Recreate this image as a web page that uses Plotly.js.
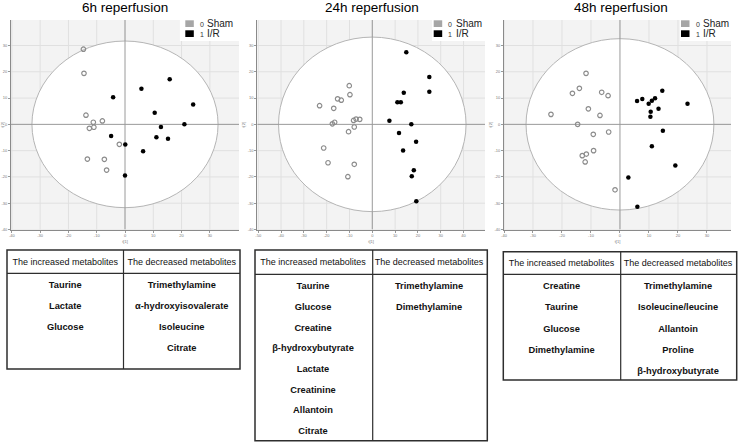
<!DOCTYPE html>
<html>
<head>
<meta charset="utf-8">
<script src="https://cdn.plot.ly/plotly-3.0.1.min.js"></script>
<style>html,body{margin:0;padding:0;background:#fff;}#chart{width:738px;height:443px;}</style>
</head>
<body>
<div id="chart"></div>
<script>
// ---------------- DATA ----------------
const panelTitles = ['6h reperfusion', '24h reperfusion', '48h reperfusion'];
const groupNames = ['Sham', 'I/R'];
const groupCodes = ['0', '1'];

const x6Sham = [-1.47, -1.45, -1.38, -1.12, -0.80, -1.26, -1.10, -0.20, -1.33, -0.73, -0.65];
const y6Sham = [2.86, 1.94, 0.35, 0.08, 0.13, -0.15, -0.11, -0.76, -1.32, -1.33, -1.74];
const x6IR = [1.58, 0.58, -0.42, 2.41, 1.05, 2.10, 1.27, -0.49, 1.11, 1.52, 0.01, 0.64, 0.00];
const y6IR = [1.72, 1.35, 1.03, 0.76, 0.44, 0.00, -0.10, -0.44, -0.49, -0.55, -0.77, -1.02, -1.95];

const x24Sham = [-2.31, -1.69, -1.52, -1.36, -1.01, -0.98, -1.75, -1.65, -0.82, -0.71, -0.55, -0.79, -1.04, -2.13, -1.94, -0.79, -1.07];
const y24Sham = [0.71, 0.61, 0.97, 0.92, 1.47, 1.13, 0.02, 0.08, 0.15, 0.20, 0.19, -0.10, -0.28, -0.90, -1.46, -1.52, -1.99];
const x24IR = [1.49, 2.50, 1.38, 2.50, 1.10, 1.25, 0.75, 1.71, 1.17, 1.92, 1.35, 1.82, 1.73, 1.93];
const y24IR = [2.74, 1.80, 1.20, 1.24, 0.84, 0.84, 0.14, 0.00, -0.33, -0.66, -0.99, -1.75, -1.97, -2.93];

const x48Sham = [-2.38, -1.64, -1.40, -1.17, -1.09, -0.63, -0.41, -0.69, -1.46, -0.92, -0.39, -0.91, -1.30, -1.16, -1.20, -0.17];
const y48Sham = [0.38, 1.18, 1.37, 1.94, 0.59, 1.22, 1.09, 0.34, 0.00, -0.38, -0.29, -1.00, -1.19, -1.13, -1.43, -2.49];
const x48IR = [0.59, 0.77, 0.99, 1.10, 1.21, 1.46, 1.33, 1.06, 1.05, 2.33, 1.48, 1.10, 1.91, 0.29, 0.60];
const y48IR = [0.89, 0.96, 0.78, 0.90, 0.99, 1.28, 0.59, 0.48, 0.29, 0.78, -0.24, -0.83, -1.57, -2.02, -3.13];

const xTicks6 = [-4, -3, -2, -1, 0, 1, 2, 3];
const xTickText6 = ['-40', '-30', '-20', '-10', '0', '10', '20', '30'];
const xTicks24 = [-5, -4, -3, -2, -1, 0, 1, 2, 3, 4];
const xTickText24 = ['-50', '-40', '-30', '-20', '-10', '0', '10', '20', '30', '40'];
const xTicks48 = [-4, -3, -2, -1, 0, 1, 2, 3];
const xTickText48 = ['-40', '-30', '-20', '-10', '0', '10', '20', '30'];
const yTicks = [-4, -3, -2, -1, 0, 1, 2, 3];
const yTickText = ['-40', '-30', '-20', '-10', '0', '10', '20', '30'];
const xAxisTitle = 't[1]';
const yAxisTitle = 't[2]';

const tableHeader = ['The increased metabolites', 'The decreased metabolites'];
const inc6 = ['Taurine', 'Lactate', 'Glucose'];
const dec6 = ['Trimethylamine', 'α-hydroxyisovalerate', 'Isoleucine', 'Citrate'];
const inc24 = ['Taurine', 'Glucose', 'Creatine', 'β-hydroxybutyrate', 'Lactate', 'Creatinine', 'Allantoin', 'Citrate'];
const dec24 = ['Trimethylamine', 'Dimethylamine'];
const inc48 = ['Creatine', 'Taurine', 'Glucose', 'Dimethylamine'];
const dec48 = ['Trimethylamine', 'Isoleucine/leucine', 'Allantoin', 'Proline', 'β-hydroxybutyrate'];

// ---------------- STYLE / LAYOUT ----------------
const W = 738, H = 443;
const PX = v => v / W;
const PY = v => 1 - v / H;
const SHAM_COLOR = '#8c8c8c';
const IR_COLOR = '#000000';
const arial = 'Liberation Sans, Arial, sans-serif';
const NB = s => s.replace(/ /g, '\u00a0');

const panels = [
  {xs: x6Sham, ys: y6Sham, xi: x6IR, yi: y6IR, xt: xTicks6, xtt: xTickText6,
   dom: [11, 239], range: [-4.03, 4.03], rx: 3.29, ry: 3.17, legX: 185.3, whiteX: 1.94, titleX: 125},
  {xs: x24Sham, ys: y24Sham, xi: x24IR, yi: y24IR, xt: xTicks24, xtt: xTickText24,
   dom: [257.3, 485], range: [-5.04, 4.94], rx: 4.11, ry: 3.32, legX: 433.7, whiteX: 2.62, titleX: 372},
  {xs: x48Sham, ys: y48Sham, xi: x48IR, yi: y48IR, xt: xTicks48, xtt: xTickText48,
   dom: [504, 731], range: [-4.0, 3.83], rx: 3.24, ry: 3.26, legX: 681, whiteX: 2.07, titleX: 621}
];
const yRange = [-4.0, 3.97];

const tables = [
  {inc: inc6, dec: dec6, x: [7, 240], top: 250, bottom: 369, head: 23.3, row: 21, div: 123.5},
  {inc: inc24, dec: dec24, x: [255, 487.3], top: 250, bottom: 440.7, head: 24.3, row: 20.7, div: 372.7},
  {inc: inc48, dec: dec48, x: [503.3, 736.7], top: 251.7, bottom: 380, head: 22.6, row: 21.2, div: 620.7}
];

const data = [];
const shapes = [];
const annotations = [];
const layout = {
  width: W, height: H,
  margin: {l: 0, r: 0, t: 0, b: 0},
  paper_bgcolor: '#ffffff',
  plot_bgcolor: '#f3f3f3',
  showlegend: false,
  font: {family: arial, color: '#000'}
};

panels.forEach((p, i) => {
  const n = i === 0 ? '' : String(i + 1);
  const xa = 'x' + n, ya = 'y' + n;
  layout['xaxis' + n] = {
    domain: [PX(p.dom[0]), PX(p.dom[1])], range: p.range, anchor: ya,
    tickvals: p.xt, ticktext: p.xtt, tickfont: {size: 4, color: '#777'},
    ticks: 'outside', ticklen: 2, tickcolor: '#999',
    showgrid: false, zeroline: false, showline: true, linecolor: '#8a8a8a', linewidth: 1,
    automargin: false, fixedrange: true,
    title: {text: xAxisTitle, font: {size: 4, color: '#777'}, standoff: 2}
  };
  layout['yaxis' + n] = {
    domain: [PY(229.5), PY(20)], range: yRange, anchor: xa,
    tickvals: yTicks, ticktext: yTickText, tickfont: {size: 4, color: '#777'},
    ticks: 'outside', ticklen: 2, tickcolor: '#999',
    showgrid: false, zeroline: false, showline: true, linecolor: '#8a8a8a', linewidth: 1,
    automargin: false, fixedrange: true,
    title: {text: yAxisTitle, font: {size: 4, color: '#777'}, standoff: 2}
  };

  data.push({
    type: 'scatter', mode: 'markers', x: p.xs, y: p.ys, xaxis: xa, yaxis: ya,
    marker: {symbol: 'circle-open', size: 4.5, color: SHAM_COLOR, line: {width: 1.2, color: SHAM_COLOR}},
    name: groupNames[0]
  });
  data.push({
    type: 'scatter', mode: 'markers', x: p.xi, y: p.yi, xaxis: xa, yaxis: ya,
    marker: {color: IR_COLOR, size: 4.5, symbol: 'circle'}, name: groupNames[1]
  });

  // grid lines (styling)
  p.xt.forEach(v => shapes.push({type: 'line', xref: xa, yref: ya, layer: 'below', x0: v, x1: v, y0: -10, y1: 10,
    line: {color: '#e0e0e0', width: 1}}));
  yTicks.forEach(v => shapes.push({type: 'line', xref: xa, yref: ya, layer: 'below', x0: -10, x1: 10, y0: v, y1: v,
    line: {color: '#e0e0e0', width: 1}}));
  // legend white backdrop
  shapes.push({type: 'rect', xref: xa, yref: ya, layer: 'below', x0: p.whiteX, x1: p.range[1] + 1, y0: 3.17, y1: 5,
    fillcolor: '#ffffff', line: {width: 0}});
  // Hotelling ellipse
  shapes.push({type: 'circle', xref: xa, yref: ya, layer: 'below', x0: -p.rx, x1: p.rx, y0: -p.ry, y1: p.ry,
    fillcolor: '#ffffff', line: {color: '#b5b5b5', width: 1}});
  // zero lines
  shapes.push({type: 'line', xref: xa, yref: ya, layer: 'below', x0: 0, x1: 0, y0: yRange[0], y1: yRange[1],
    line: {color: '#9a9a9a', width: 1}});
  shapes.push({type: 'line', xref: xa, yref: ya, layer: 'below', x0: p.range[0], x1: p.range[1], y0: 0, y1: 0,
    line: {color: '#9a9a9a', width: 1}});

  // legend squares
  shapes.push({type: 'rect', xref: 'paper', yref: 'paper', x0: PX(p.legX), x1: PX(p.legX + 8.5), y0: PY(27), y1: PY(20.3),
    fillcolor: '#a6a6a6', line: {width: 0}});
  shapes.push({type: 'rect', xref: 'paper', yref: 'paper', x0: PX(p.legX), x1: PX(p.legX + 8.5), y0: PY(37), y1: PY(30.3),
    fillcolor: '#000000', line: {width: 0}});
  [0, 1].forEach(k => {
    const yy = k === 0 ? 23.8 : 33.8;
    annotations.push({xref: 'paper', yref: 'paper', x: PX(p.legX + 12.5), y: PY(yy + 0.6), xanchor: 'left', yanchor: 'middle',
      text: groupCodes[k], showarrow: false, font: {family: arial, size: 7, color: '#333'}});
    annotations.push({xref: 'paper', yref: 'paper', x: PX(p.legX + 20), y: PY(yy), xanchor: 'left', yanchor: 'middle',
      text: groupNames[k], showarrow: false, font: {family: arial, size: 10, color: '#222'}});
  });

  // panel title
  annotations.push({xref: 'paper', yref: 'paper', x: PX(p.titleX), y: PY(7.5), xanchor: 'center', yanchor: 'middle',
    text: panelTitles[i], showarrow: false, font: {family: arial, size: 13.5, color: '#000'}});
});

tables.forEach(t => {
  const nRows = Math.max(t.inc.length, t.dec.length);
  const pad = arr => arr.map(NB).concat(Array(nRows - arr.length).fill(''));
  data.push({
    type: 'table',
    domain: {x: [PX(t.x[0]), PX(t.x[1])], y: [0, PY(t.top)]},
    columnwidth: [1, 1],
    header: {
      values: tableHeader.map(NB), align: 'center', height: t.head,
      fill: {color: '#ffffff'}, line: {color: 'rgba(0,0,0,0)', width: 0},
      font: {family: arial, size: 9, color: '#111'}
    },
    cells: {
      values: [pad(t.inc), pad(t.dec)], align: 'center', height: t.row,
      fill: {color: '#ffffff'}, line: {color: 'rgba(0,0,0,0)', width: 0},
      font: {family: arial, size: 9.3, color: '#111', weight: 'bold'}
    }
  });
  const bc = '#2e2e2e';
  shapes.push({type: 'rect', xref: 'paper', yref: 'paper', x0: PX(t.x[0]), x1: PX(t.x[1]), y0: PY(t.bottom), y1: PY(t.top),
    line: {color: bc, width: 1.5}, fillcolor: 'rgba(0,0,0,0)'});
  shapes.push({type: 'line', xref: 'paper', yref: 'paper', x0: PX(t.x[0]), x1: PX(t.x[1]), y0: PY(t.top + t.head), y1: PY(t.top + t.head),
    line: {color: bc, width: 1.3}});
  shapes.push({type: 'line', xref: 'paper', yref: 'paper', x0: PX(t.div), x1: PX(t.div), y0: PY(t.bottom), y1: PY(t.top),
    line: {color: bc, width: 1.2}});
});

layout.shapes = shapes;
layout.annotations = annotations;

Plotly.newPlot('chart', data, layout, {staticPlot: true, displayModeBar: false});
</script>
</body>
</html>
